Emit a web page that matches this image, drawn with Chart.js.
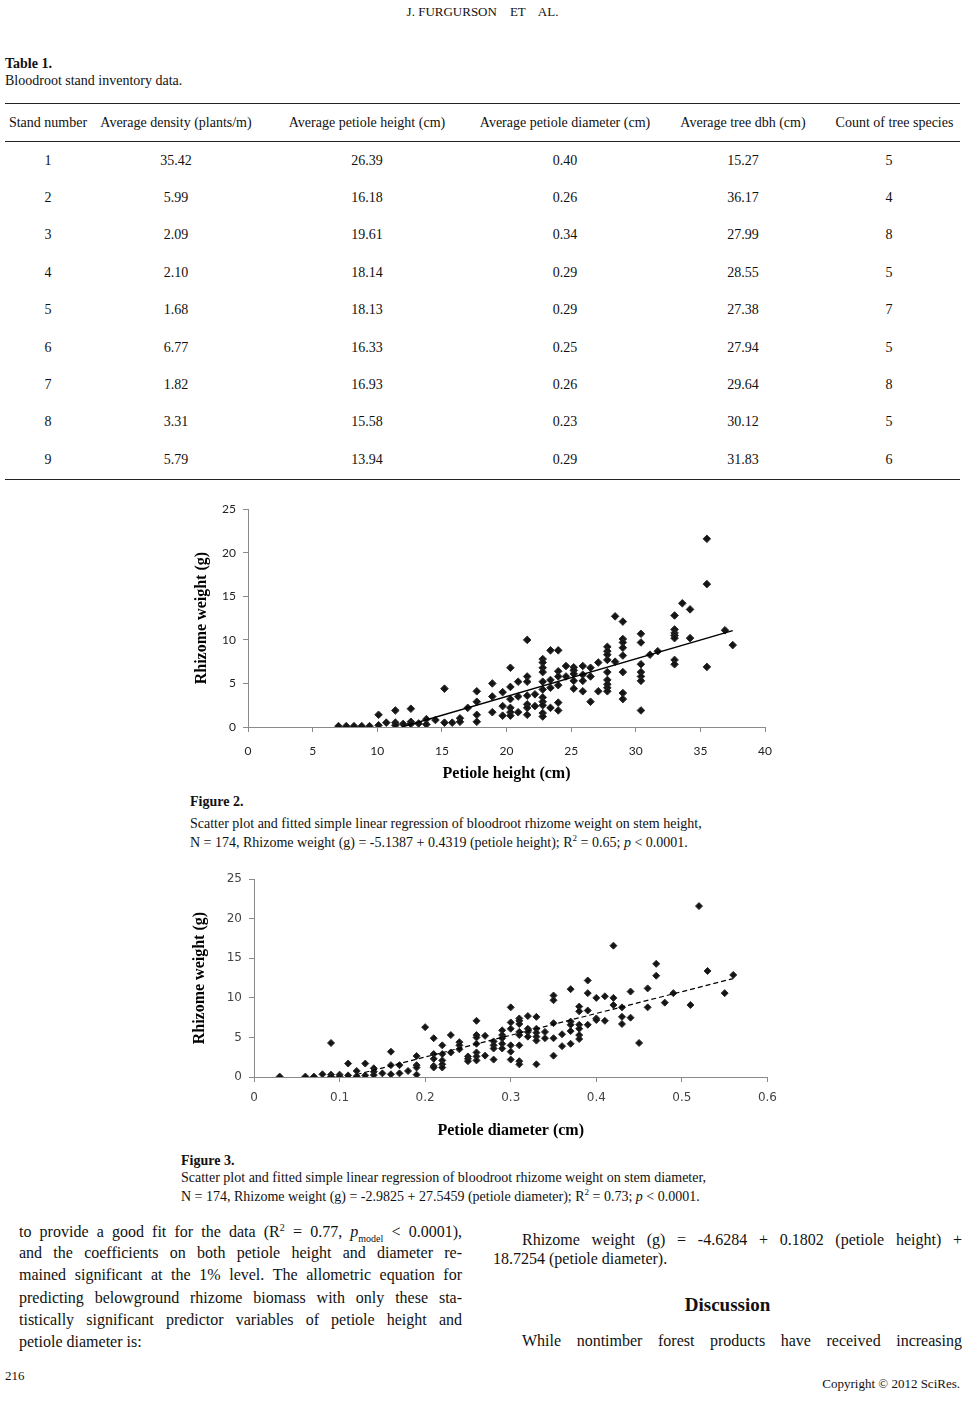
<!DOCTYPE html>
<html>
<head>
<meta charset="utf-8">
<script src="https://cdn.jsdelivr.net/npm/chart.js@4.4.1/dist/chart.umd.min.js"></script>
<style>
  html, body { margin: 0; padding: 0; background: #fff; }
  #page { position: relative; width: 965px; height: 1414px; overflow: hidden;
          font-family: "Liberation Serif", "Times New Roman", serif; color: #111; }
  .abs { position: absolute; white-space: pre; }
  .bold { font-weight: bold; }
  table.inv { position: absolute; left: 5px; top: 103px; width: 955px; border-collapse: collapse;
              table-layout: fixed; font-size: 14px; }
  table.inv th { font-weight: normal; height: 37px; border-top: 1px solid #222; border-bottom: 1.5px solid #222;
                 text-align: center; padding: 0; white-space: nowrap; }
  table.inv td { height: 37.4px; text-align: center; padding: 0; }
  table.inv tr:last-child td { border-bottom: 1.5px solid #222; }
  .just { position: absolute; font-size: 16px; text-align: justify; text-align-last: justify; white-space: normal; }
  .cap { font-size: 14px; }
  .box { position: absolute; }
</style>
</head>
<body>
<div id="page">
  <div class="abs" style="left:0;width:965px;top:4px;text-align:center;font-size:13px;">J. FURGURSON    ET    AL.</div>

  <div class="abs bold" style="left:5px;top:56px;font-size:14px;">Table 1.</div>
  <div class="abs" style="left:5px;top:73px;font-size:14px;">Bloodroot stand inventory data.</div>

  <table class="inv" id="invTable">
    <colgroup>
      <col style="width:86px"><col style="width:170px"><col style="width:212px">
      <col style="width:184px"><col style="width:172px"><col style="width:131px">
    </colgroup>
    <thead><tr id="invHead"></tr></thead>
    <tbody id="invBody"></tbody>
  </table>

  <div class="box" style="left:190px;top:495px;width:594px;height:295px;">
    <canvas id="heightChart" width="594" height="295"></canvas>
  </div>

  <div class="abs bold cap" style="left:190px;top:794px;">Figure 2.</div>
  <div class="abs cap" style="left:190px;top:816px;">Scatter plot and fitted simple linear regression of bloodroot rhizome weight on stem height,</div>
  <div class="abs cap" style="left:190px;top:833px;">N = 174, Rhizome weight (g) = -5.1387 + 0.4319 (petiole height); R<sup style="font-size:9px">2</sup> = 0.65; <i>p</i> &lt; 0.0001.</div>

  <div class="box" style="left:180px;top:865px;width:606px;height:280px;">
    <canvas id="diameterChart" width="606" height="280"></canvas>
  </div>

  <div class="abs bold cap" style="left:181px;top:1153px;">Figure 3.</div>
  <div class="abs cap" style="left:181px;top:1170px;">Scatter plot and fitted simple linear regression of bloodroot rhizome weight on stem diameter,</div>
  <div class="abs cap" style="left:181px;top:1187px;">N = 174, Rhizome weight (g) = -2.9825 + 27.5459 (petiole diameter); R<sup style="font-size:9px">2</sup> = 0.73; <i>p</i> &lt; 0.0001.</div>

  <div class="just" style="left:19px;width:443px;top:1222px;">to provide a good fit for the data (R<sup style="font-size:10px">2</sup> = 0.77, <i>p</i><sub style="font-size:10px">model</sub> &lt; 0.0001),</div>
  <div class="just" style="left:19px;width:443px;top:1244px;">and the coefficients on both petiole height and diameter re-</div>
  <div class="just" style="left:19px;width:443px;top:1266px;">mained significant at the 1% level. The allometric equation for</div>
  <div class="just" style="left:19px;width:443px;top:1289px;">predicting belowground rhizome biomass with only these sta-</div>
  <div class="just" style="left:19px;width:443px;top:1311px;">tistically significant predictor variables of petiole height and</div>
  <div class="abs" style="left:19px;top:1333px;font-size:16px;">petiole diameter is:</div>

  <div class="just" style="left:522px;width:440px;top:1231px;">Rhizome weight (g) = -4.6284 + 0.1802 (petiole height) +</div>
  <div class="abs" style="left:493px;top:1250px;font-size:16px;">18.7254 (petiole diameter).</div>
  <div class="abs bold" style="left:493px;width:469px;top:1294px;font-size:19px;text-align:center;">Discussion</div>
  <div class="just" style="left:522px;width:440px;top:1332px;">While nontimber forest products have received increasing</div>

  <div class="abs" style="left:5px;top:1368px;font-size:13px;">216</div>
  <div class="abs" style="right:5px;top:1376px;font-size:13px;">Copyright © 2012 SciRes.</div>
</div>

<script>
// Tabel 1: gegevens per opstand
const tableHeaders = ['Stand number', 'Average density (plants/m)', 'Average petiole height (cm)',
                      'Average petiole diameter (cm)', 'Average tree dbh (cm)', 'Count of tree species'];
const standNumbers = ['1', '2', '3', '4', '5', '6', '7', '8', '9'];
const avgDensity   = ['35.42', '5.99', '2.09', '2.10', '1.68', '6.77', '1.82', '3.31', '5.79'];
const avgHeight    = ['26.39', '16.18', '19.61', '18.14', '18.13', '16.33', '16.93', '15.58', '13.94'];
const avgDiameter  = ['0.40', '0.26', '0.34', '0.29', '0.29', '0.25', '0.26', '0.23', '0.29'];
const avgTreeDbh   = ['15.27', '36.17', '27.99', '28.55', '27.38', '27.94', '29.64', '30.12', '31.83'];
const treeSpecies  = ['5', '4', '8', '5', '7', '5', '8', '5', '6'];

// Figuur 2: rhizoomgewicht tegen bladsteelhoogte
const heightCm = [
  7.0, 7.6, 8.2, 8.8, 9.4, 10.1, 10.1, 10.7, 11.4, 11.4, 11.4, 12.0, 12.6, 12.6, 12.6, 13.2, 13.8, 13.8,
  14.5, 15.2, 15.2, 15.8, 16.4, 16.4, 17.0, 17.7, 17.7, 17.7, 17.7,
  18.9, 18.9, 18.9, 19.7, 19.7, 19.7, 20.3, 20.3, 20.3, 20.3, 20.3, 20.3, 20.9, 20.9, 20.9,
  21.6, 21.6, 21.6, 21.6, 21.6, 21.6, 21.6, 22.2, 22.2,
  22.8, 22.8, 22.8, 22.8, 22.8, 22.8, 22.8, 22.8, 22.8, 22.8, 22.8,
  23.4, 23.4, 23.4, 23.4, 24.0, 24.0, 24.0, 24.0, 24.0, 24.0, 24.6, 24.6,
  25.2, 25.2, 25.2, 25.2, 25.2, 25.9, 25.9, 25.9, 25.9, 26.5, 26.5, 26.5, 27.1, 27.1,
  27.8, 27.8, 27.8, 27.8, 27.8, 27.8, 27.8, 27.8, 27.8, 28.4, 28.4,
  29.0, 29.0, 29.0, 29.0, 29.0, 29.0, 29.0, 29.0,
  30.4, 30.4, 30.4, 30.4, 30.4, 30.4, 30.4, 31.1, 31.7,
  33.0, 33.0, 33.0, 33.0, 33.0, 33.0, 33.0, 33.6, 34.2, 34.2, 35.5, 35.5, 35.5, 36.9, 37.5
];
const weightByHeight = [
  0.1, 0.1, 0.1, 0.1, 0.1, 1.4, 0.2, 0.5, 1.9, 0.5, 0.2, 0.35, 2.1, 0.6, 0.35, 0.4, 0.9, 0.3,
  0.8, 4.4, 0.5, 0.5, 1.0, 0.6, 2.2, 4.1, 2.9, 1.4, 0.6,
  5.0, 3.5, 1.7, 4.0, 2.4, 1.3, 6.8, 4.6, 3.2, 2.2, 1.7, 1.3, 5.2, 3.5, 1.7,
  10.0, 5.8, 5.2, 3.6, 2.6, 2.2, 1.4, 3.75, 2.4,
  7.8, 7.4, 6.8, 6.3, 5.2, 4.3, 3.4, 2.9, 2.5, 1.6, 1.2,
  8.8, 5.4, 4.5, 2.2, 8.8, 6.4, 5.8, 4.8, 2.8, 1.9, 7.0, 5.8,
  6.85, 6.5, 6.1, 5.3, 4.4, 7.0, 6.0, 5.3, 4.1, 6.8, 5.8, 2.9, 7.4, 4.1,
  9.2, 8.7, 8.3, 7.7, 6.3, 5.4, 4.9, 4.5, 4.1, 12.7, 7.5,
  12.1, 10.1, 9.7, 9.1, 8.2, 6.3, 3.9, 3.2,
  10.7, 9.7, 7.2, 6.3, 5.8, 5.3, 1.9, 8.3, 8.7,
  12.8, 11.2, 10.8, 10.5, 10.2, 7.7, 7.2, 14.2, 13.5, 10.2, 21.6, 16.4, 6.9, 11.1, 9.4
];
const heightFitX = [11.9, 37.5];
const heightFitY = [0.0, 11.06];
const heightTickLabels = ['0', '5', '10', '15', '20', '25', '30', '35', '40'];
const weightTickLabels = ['0', '5', '10', '15', '20', '25'];

// Figuur 3: rhizoomgewicht tegen bladsteeldiameter
const diameterCm = [
  0.03, 0.06, 0.07, 0.08, 0.09, 0.09, 0.09, 0.10, 0.10, 0.11, 0.11, 0.12, 0.12, 0.13, 0.13,
  0.14, 0.14, 0.14, 0.15, 0.16, 0.16, 0.16, 0.17, 0.17, 0.18, 0.19, 0.19, 0.19, 0.19, 0.20,
  0.21, 0.21, 0.21, 0.21, 0.21, 0.22, 0.22, 0.22, 0.22, 0.22, 0.23, 0.23, 0.24, 0.24, 0.24,
  0.25, 0.25, 0.25, 0.26, 0.26, 0.26, 0.26, 0.26, 0.26, 0.26, 0.27, 0.27, 0.28, 0.28, 0.28, 0.28,
  0.29, 0.29, 0.29, 0.29, 0.29, 0.30, 0.30, 0.30, 0.30, 0.30, 0.30,
  0.31, 0.31, 0.31, 0.31, 0.31, 0.31, 0.31, 0.31, 0.32, 0.32, 0.32, 0.32,
  0.33, 0.33, 0.33, 0.33, 0.33, 0.33, 0.34, 0.34, 0.35, 0.35, 0.35, 0.35, 0.35, 0.36, 0.36,
  0.37, 0.37, 0.37, 0.37, 0.37, 0.38, 0.38, 0.38, 0.38, 0.38, 0.38, 0.39, 0.39, 0.39, 0.39,
  0.40, 0.40, 0.40, 0.41, 0.41, 0.42, 0.42, 0.42, 0.43, 0.43, 0.43, 0.44, 0.44, 0.45,
  0.46, 0.46, 0.47, 0.47, 0.48, 0.49, 0.51, 0.52, 0.53, 0.55, 0.56
];
const weightByDiameter = [
  0.05, 0.05, 0.05, 0.34, 4.3, 0.3, 0.05, 0.3, 0.05, 1.7, 0.2, 0.76, 0.1, 1.7, 0.2,
  1.1, 0.67, 0.25, 0.46, 3.2, 1.5, 0.34, 1.5, 0.46, 0.76, 2.65, 1.5, 1.2, 0.3, 6.3,
  4.9, 2.9, 2.3, 1.4, 1.2, 4.0, 2.9, 2.1, 1.6, 1.2, 5.3, 3.1, 4.4, 4.0, 3.5,
  2.6, 2.3, 2.0, 7.1, 5.3, 5.0, 4.2, 3.1, 2.6, 2.1, 5.2, 2.7, 4.5, 4.0, 3.6, 2.2,
  5.9, 5.3, 4.9, 4.2, 3.6, 8.8, 6.9, 6.1, 4.0, 3.2, 2.2,
  7.4, 7.1, 6.7, 5.7, 5.3, 4.0, 2.0, 1.6, 7.7, 6.1, 5.7, 5.1,
  7.6, 6.1, 5.6, 5.1, 4.6, 1.6, 5.7, 4.9, 10.3, 9.7, 6.8, 4.9, 2.7, 5.4, 3.9,
  11.1, 7.0, 6.6, 5.8, 4.2, 8.9, 8.3, 6.6, 6.1, 5.3, 4.8, 12.2, 10.6, 8.4, 6.6,
  10.0, 7.4, 7.2, 10.2, 7.1, 16.6, 10.0, 9.1, 8.8, 7.6, 6.7, 10.8, 7.5, 4.3,
  11.2, 8.8, 14.3, 12.8, 9.4, 10.6, 9.1, 21.6, 13.4, 10.6, 12.9
];
const diameterFitX = [0.12, 0.56];
const diameterFitY = [0.32, 12.44];
const diameterTickLabels = ['0', '0.1', '0.2', '0.3', '0.4', '0.5', '0.6'];

// tabel vullen
document.getElementById('invHead').innerHTML = tableHeaders.map(h => '<th>' + h + '</th>').join('');
document.getElementById('invBody').innerHTML = standNumbers.map((s, i) =>
  '<tr><td>' + s + '</td><td>' + avgDensity[i] + '</td><td>' + avgHeight[i] + '</td><td>' +
  avgDiameter[i] + '</td><td>' + avgTreeDbh[i] + '</td><td style="padding-right:11px">' + treeSpecies[i] + '</td></tr>'
).join('');

function toPoints(xs, ys) {
  return xs.map((x, i) => ({ x: x, y: ys[i] }));
}

function scatterConfig(opts) {
  return {
    type: 'scatter',
    data: {
      datasets: [{
        data: toPoints(opts.xs, opts.ys),
        pointStyle: 'rectRot',
        pointRadius: opts.radius,
        backgroundColor: '#151515',
        borderColor: '#2a2a2a',
        borderWidth: 1,
        order: 1
      }, {
        type: 'line',
        data: toPoints(opts.fitX, opts.fitY),
        borderColor: '#000',
        borderWidth: opts.lineWidth,
        borderDash: opts.dash,
        pointRadius: 0,
        fill: false,
        order: 0
      }]
    },
    options: {
      responsive: false,
      animation: false,
      layout: { padding: opts.padding },
      plugins: { legend: { display: false }, tooltip: { enabled: false } },
      scales: {
        x: {
          type: 'linear',
          min: opts.xMin, max: opts.xMax,
          afterFit: s => { s.height = opts.xHeight; },
          grid: { drawOnChartArea: false, drawTicks: true, tickLength: 5, color: '#8a8a8a' },
          border: { display: true, color: '#8a8a8a', width: 1 },
          ticks: {
            stepSize: opts.xStep, padding: opts.xTickPad, color: opts.tickColor,
            font: { family: opts.tickFont, size: 12 },
            maxRotation: 0,
            callback: (v, i) => opts.xLabels[i]
          },
          title: {
            display: true, text: opts.xTitle, color: '#000',
            font: { family: 'Liberation Serif', size: 16, weight: 'bold' },
            padding: { top: 2, bottom: opts.xTitlePad }
          }
        },
        y: {
          min: 0, max: 25,
          afterFit: s => { s.width = opts.yWidth; },
          grid: { drawOnChartArea: false, drawTicks: true, tickLength: 5, color: '#8a8a8a' },
          border: { display: true, color: '#8a8a8a', width: 1 },
          ticks: {
            stepSize: 5, padding: opts.yTickPad, color: opts.tickColor,
            font: { family: opts.tickFont, size: 12 },
            callback: (v, i) => weightTickLabels[i]
          },
          title: {
            display: true, text: 'Rhizome weight (g)', color: '#000',
            font: { family: 'Liberation Serif', size: 16, weight: 'bold' },
            padding: { top: opts.yTitlePad, bottom: 0 }
          }
        }
      }
    }
  };
}

new Chart(document.getElementById('heightChart').getContext('2d'), scatterConfig({
  xs: heightCm, ys: weightByHeight, fitX: heightFitX, fitY: heightFitY,
  radius: 3.8, lineWidth: 1.5, dash: [],
  padding: { left: 0, right: 11, top: 12, bottom: 0 },
  xMin: 0, xMax: 40, xStep: 5, xLabels: heightTickLabels,
  xHeight: 63, yWidth: 58, xTickPad: 12, yTickPad: 7,
  tickFont: 'Lato', tickColor: '#222',
  xTitle: 'Petiole height (cm)', xTitlePad: 7, yTitlePad: 2
}));

new Chart(document.getElementById('diameterChart').getContext('2d'), scatterConfig({
  xs: diameterCm, ys: weightByDiameter, fitX: diameterFitX, fitY: diameterFitY,
  radius: 3.5, lineWidth: 1.2, dash: [5, 3],
  padding: { left: 0, right: 7, top: 14, bottom: 0 },
  xMin: 0, xMax: 0.6, xStep: 0.1, xLabels: diameterTickLabels,
  xHeight: 68, yWidth: 74, xTickPad: 9, yTickPad: 7,
  tickFont: 'DejaVu Sans', tickColor: '#444',
  xTitle: 'Petiole diameter (cm)', xTitlePad: 5, yTitlePad: 10
}));
</script>
</body>
</html>
